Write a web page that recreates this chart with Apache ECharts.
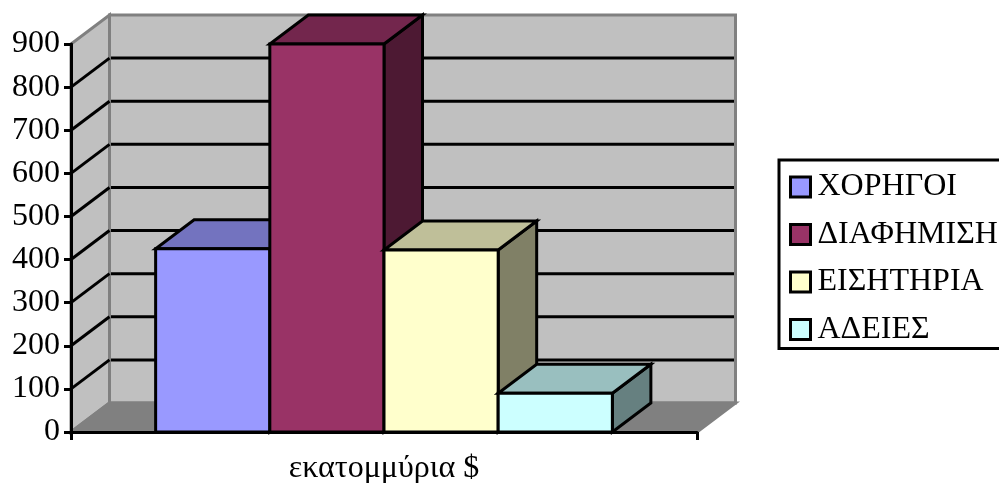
<!DOCTYPE html>
<html>
<head>
<meta charset="utf-8">
<style>html,body{margin:0;padding:0;background:#fff}#chart{width:999px;height:483px}</style>
<script src="https://cdn.jsdelivr.net/npm/echarts@6/dist/echarts.min.js"></script>
</head>
<body>
<div id="chart"></div>
<script>
// Budget breakdown, in millions of dollars
const categories = ['εκατομμύρια $'];
const seriesNames = ['ΧΟΡΗΓΟΙ', 'ΔΙΑΦΗΜΙΣΗ', 'ΕΙΣΗΤΗΡΙΑ', 'ΑΔΕΙΕΣ'];
const seriesValues = [425, 900, 422, 90];
const frontColors = ['#9999ff', '#993366', '#ffffcc', '#ccffff'];
const topColors = ['#7373bf', '#73264d', '#bfbf99', '#99bfbf'];
const sideColors = ['#4d4d80', '#4d1933', '#808066', '#668080'];
const wallTicks = [100, 200, 300, 400, 500, 600, 700, 800];

// Extrusion of the box into the page, in pixels
const DEPTH_X = 38.5;
const DEPTH_Y = -29;
const FONT = '"Liberation Serif", "Times New Roman", serif';
const BAR_SHARE = 0.1824;
const INK = 3;

const chart = echarts.init(document.getElementById('chart'), null, { renderer: 'canvas' });

function shift(p) { return [p[0] + DEPTH_X, p[1] + DEPTH_Y]; }

// Side wall, back wall, floor and the tick lines running across them
function renderWalls(params, api) {
  const band = api.size([1, 0])[0];
  const cx = api.coord([0, 0])[0];
  const xl = cx - band / 2, xr = cx + band / 2;
  const y0 = api.coord([0, 0])[1], yMax = api.coord([0, 900])[1];
  const edge = { stroke: '#808080', lineWidth: INK };
  const poly = (pts, fill) => ({
    type: 'polygon', shape: { points: pts }, style: Object.assign({ fill: fill }, edge)
  });
  const children = [
    poly([[xl, y0], shift([xl, y0]), shift([xl, yMax]), [xl, yMax]], '#c0c0c0'),
    poly([shift([xl, y0]), shift([xr, y0]), shift([xr, yMax]), shift([xl, yMax])], '#c0c0c0'),
    poly([[xl, y0], [xr, y0], shift([xr, y0]), shift([xl, y0])], '#808080')
  ];
  wallTicks.forEach(function (v) {
    const y = api.coord([0, v])[1];
    const a = [xl, y], b = shift(a), c = shift([xr, y]);
    children.push({
      type: 'polyline', shape: { points: [a, b] }, style: { stroke: '#000', lineWidth: INK, fill: null }
    });
    children.push({
      type: 'polyline',
      shape: { points: [[b[0] + 1.5, b[1]], [c[0] - 1.5, c[1]]] },
      style: { stroke: '#000', lineWidth: INK, fill: null }
    });
  });
  return { type: 'group', children: children };
}

// One extruded column: front face, lid and right side
function renderBox(index) {
  return function (params, api) {
    const band = api.size([1, 0])[0];
    const cx = api.coord([api.value(0), 0])[0];
    const w = band * BAR_SHARE;
    const x0 = cx - 2 * w + index * w;
    const x1 = x0 + w;
    const yb = api.coord([0, 0])[1];
    const yt = api.coord([0, api.value(1)])[1];
    const line = { stroke: '#000', lineWidth: INK, lineJoin: 'miter' };
    return {
      type: 'group',
      children: [
        { type: 'polygon', shape: { points: [[x1, yb], shift([x1, yb]), shift([x1, yt]), [x1, yt]] },
          style: Object.assign({ fill: sideColors[index] }, line) },
        { type: 'polygon', shape: { points: [[x0, yt], [x1, yt], shift([x1, yt]), shift([x0, yt])] },
          style: Object.assign({ fill: topColors[index] }, line) },
        { type: 'rect', shape: { x: x0, y: yt, width: w, height: yb - yt },
          style: Object.assign({ fill: frontColors[index] }, line) }
      ]
    };
  };
}

const boxSeries = seriesNames.map(function (name, i) {
  return {
    type: 'custom',
    name: name,
    renderItem: renderBox(i),
    clip: false,
    encode: { x: 0, y: 1 },
    itemStyle: { color: frontColors[i] },
    data: [[0, seriesValues[i]]],
    z: 3 + i
  };
});

chart.setOption({
  animation: false,
  backgroundColor: '#fff',
  grid: { left: 71, right: 302, top: 44, bottom: 51, outerBoundsMode: 'none' },
  xAxis: {
    type: 'category',
    data: categories,
    z: 10,
    axisLine: { lineStyle: { color: '#000', width: INK } },
    axisTick: { show: true, alignWithLabel: false, length: 8, lineStyle: { color: '#000', width: INK } },
    axisLabel: { color: '#000', fontFamily: FONT, fontSize: 32, margin: 21 }
  },
  yAxis: {
    type: 'value',
    min: 0,
    max: 900,
    interval: 100,
    z: 10,
    splitLine: { show: false },
    axisLine: { show: true, lineStyle: { color: '#000', width: INK } },
    axisTick: { show: true, length: 7, lineStyle: { color: '#000', width: INK } },
    axisLabel: { color: '#000', fontFamily: FONT, fontSize: 32, margin: 11, padding: [3, 0, 0, 0] }
  },
  legend: {
    left: 779,
    top: 160,
    orient: 'vertical',
    padding: [11, 10, 3, 10],
    itemWidth: 20,
    itemHeight: 20,
    itemGap: 15.5,
    icon: 'rect',
    borderColor: '#000',
    borderWidth: 3,
    data: seriesNames,
    itemStyle: { borderColor: '#000', borderWidth: 3 },
    textStyle: { color: '#000', fontFamily: FONT, fontSize: 32, padding: [0, 0, 0, 2] }
  },
  series: [{
    type: 'custom',
    name: 'walls',
    renderItem: renderWalls,
    clip: false,
    silent: true,
    encode: { x: 0, y: 1 },
    data: [[0, 0]],
    z: 1
  }].concat(boxSeries)
});
</script>
</body>
</html>
